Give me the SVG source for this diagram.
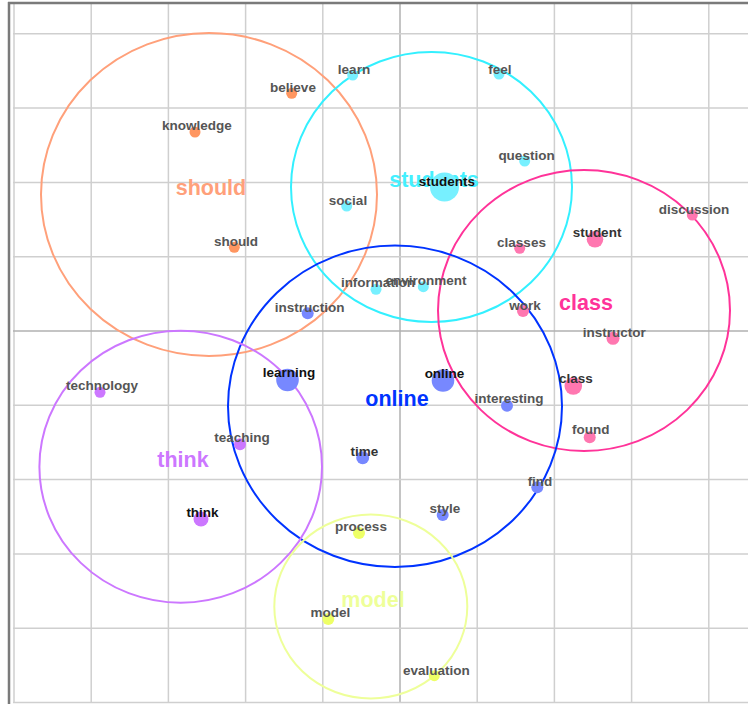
<svg xmlns="http://www.w3.org/2000/svg" width="748" height="704" viewBox="0 0 748 704">
<style>
.g{stroke:#cfcfcf;stroke-width:1.5}
.gc{stroke:#b0b0b0;stroke-width:1.5}
.cl{fill:none;stroke-width:2}
.cn{font-family:"Liberation Sans",Arial,sans-serif;font-weight:bold;font-size:21.5px;text-anchor:middle}
.w{font-family:"Liberation Sans",Arial,sans-serif;font-weight:bold;font-size:13.5px;text-anchor:middle;fill:#555}
.k{fill:#111}
.d{fill:#333}
.or{fill:#ff9660}.cy{fill:#77f0ff}.pk{fill:#ff77b0}.bl{fill:#7788ff}.pu{fill:#cc77ff}.ye{fill:#eeff66}
</style>
<rect width="748" height="704" fill="#fff"/>
<g id="grid">
<line class="g" x1="14" y1="3" x2="14" y2="703"/>
<line class="g" x1="91.2" y1="3" x2="91.2" y2="703"/>
<line class="g" x1="168.4" y1="3" x2="168.4" y2="703"/>
<line class="g" x1="245.6" y1="3" x2="245.6" y2="703"/>
<line class="g" x1="322.8" y1="3" x2="322.8" y2="703"/>
<line class="gc" x1="400" y1="3" x2="400" y2="703"/>
<line class="g" x1="477.2" y1="3" x2="477.2" y2="703"/>
<line class="g" x1="554.4" y1="3" x2="554.4" y2="703"/>
<line class="g" x1="631.6" y1="3" x2="631.6" y2="703"/>
<line class="g" x1="708.8" y1="3" x2="708.8" y2="703"/>
<line class="g" x1="13" y1="33.8" x2="748" y2="33.8"/>
<line class="g" x1="13" y1="108.1" x2="748" y2="108.1"/>
<line class="g" x1="13" y1="182.4" x2="748" y2="182.4"/>
<line class="g" x1="13" y1="256.7" x2="748" y2="256.7"/>
<line class="gc" x1="13" y1="331" x2="748" y2="331"/>
<line class="g" x1="13" y1="405.3" x2="748" y2="405.3"/>
<line class="g" x1="13" y1="479.6" x2="748" y2="479.6"/>
<line class="g" x1="13" y1="553.9" x2="748" y2="553.9"/>
<line class="g" x1="13" y1="628.2" x2="748" y2="628.2"/>
<line class="g" x1="13" y1="702.5" x2="748" y2="702.5"/>
<line x1="9" y1="2" x2="9" y2="704" stroke="#7a7a7a" stroke-width="2.5"/>
<line x1="8" y1="3" x2="748" y2="3" stroke="#7a7a7a" stroke-width="2.5"/>
</g>
<g id="clusters">
<g id="cluster-should"><ellipse class="cl" cx="209" cy="194.5" rx="168" ry="161.5" stroke="#ffa07a"/><text class="cn" x="211" y="195" fill="#ffa07a">should</text></g>
<g id="cluster-students"><ellipse class="cl" cx="431.5" cy="187" rx="140.5" ry="135" stroke="#33f0ff"/><text class="cn" x="434" y="187" fill="#44f0ff">students</text></g>
<g id="cluster-class"><ellipse class="cl" cx="584" cy="310.5" rx="146" ry="140.5" stroke="#ff3399"/><text class="cn" x="586" y="310" fill="#ff3399">class</text></g>
<g id="cluster-online"><ellipse class="cl" cx="395" cy="406.3" rx="167" ry="160.7" stroke="#0033ff"/><text class="cn" x="397" y="406" fill="#0033ff">online</text></g>
<g id="cluster-think"><ellipse class="cl" cx="180.7" cy="466.7" rx="141.3" ry="136" stroke="#cc77ff"/><text class="cn" x="183" y="467" fill="#cc77ff">think</text></g>
<g id="cluster-model"><ellipse class="cl" cx="370.8" cy="606.5" rx="96.5" ry="92" stroke="#eeff99"/><text class="cn" x="373" y="607" fill="#eeff99">model</text></g>
</g>
<g id="connectors"></g>
<g id="nodes">
<g id="n-learn"><circle class="cy" cx="352.7" cy="75" r="5.5"/><text class="w" x="354" y="74">learn</text></g>
<g id="n-believe"><circle class="or" cx="291.7" cy="93.3" r="5.5"/><text class="w" x="293" y="92">believe</text></g>
<g id="n-knowledge"><circle class="or" cx="195" cy="132" r="5.5"/><text class="w" x="197" y="130">knowledge</text></g>
<g id="n-feel"><circle class="cy" cx="499" cy="74" r="5.5"/><text class="w" x="500" y="74">feel</text></g>
<g id="n-question"><circle class="cy" cx="524.7" cy="161" r="5.5"/><text class="w" x="526.5" y="159.5">question</text></g>
<g id="n-social"><circle class="cy" cx="346.7" cy="206" r="5.5"/><text class="w" x="348" y="205" fill="#777">social</text></g>
<g id="n-students"><circle class="cy" cx="444.5" cy="187" r="14.5"/><text class="w k" x="447" y="186">students</text></g>
<g id="n-should"><circle class="or" cx="234.3" cy="247.3" r="5.5"/><text class="w" x="236" y="246">should</text></g>
<g id="n-discussion"><circle class="pk" cx="692.3" cy="215" r="5.5"/><text class="w" x="694" y="213.5">discussion</text></g>
<g id="n-student"><circle class="pk" cx="595" cy="239.3" r="8.3"/><text class="w d" x="597" y="237">student</text></g>
<g id="n-classes"><circle class="pk" cx="519.7" cy="248.3" r="5.5"/><text class="w" x="521.5" y="247">classes</text></g>
<g id="n-information"><circle class="cy" cx="376" cy="289.3" r="5.5"/><text class="w" x="378" y="287">information</text></g>
<g id="n-environment"><circle class="cy" cx="423.3" cy="286.7" r="5.5"/><text class="w" x="426" y="285">environment</text></g>
<g id="n-instruction"><circle class="bl" cx="307.7" cy="313.3" r="6"/><text class="w" x="309.7" y="311.7">instruction</text></g>
<g id="n-work"><circle class="pk" cx="523" cy="311" r="6"/><text class="w" x="525" y="310">work</text></g>
<g id="n-instructor"><circle class="pk" cx="613" cy="338.3" r="6.5"/><text class="w" x="614.3" y="336.7">instructor</text></g>
<g id="n-learning"><circle class="bl" cx="287.5" cy="380" r="11.3"/><text class="w k" x="289" y="377.3">learning</text></g>
<g id="n-online"><circle class="bl" cx="443" cy="380.5" r="11.3"/><text class="w k" x="444.5" y="378.3">online</text></g>
<g id="n-technology"><circle class="pu" cx="100" cy="392.3" r="5.5"/><text class="w" x="102" y="390">technology</text></g>
<g id="n-class"><circle class="pk" cx="573.3" cy="386" r="8.8"/><text class="w d" x="576" y="383.3">class</text></g>
<g id="n-interesting"><circle class="bl" cx="507" cy="405.7" r="6"/><text class="w" x="509" y="403.3">interesting</text></g>
<g id="n-teaching"><circle class="pu" cx="240" cy="444.3" r="6"/><text class="w" x="242" y="441.7">teaching</text></g>
<g id="n-found"><circle class="pk" cx="589.7" cy="437.3" r="6"/><text class="w" x="590.7" y="434">found</text></g>
<g id="n-time"><circle class="bl" cx="362.7" cy="457.7" r="6.5"/><text class="w d" x="364.5" y="455.7">time</text></g>
<g id="n-find"><circle class="bl" cx="537.3" cy="487.3" r="6"/><text class="w" x="540" y="485.7">find</text></g>
<g id="n-think"><circle class="pu" cx="201" cy="519" r="7.5"/><text class="w k" x="202.5" y="517.3">think</text></g>
<g id="n-style"><circle class="bl" cx="442.7" cy="515" r="6"/><text class="w" x="445" y="513.3">style</text></g>
<g id="n-process"><circle class="ye" cx="359" cy="533" r="6"/><text class="w" x="361" y="530.7" fill="#666">process</text></g>
<g id="n-model"><circle class="ye" cx="328.3" cy="619" r="6"/><text class="w" x="330.3" y="617.3">model</text></g>
<g id="n-evaluation"><circle class="ye" cx="434.3" cy="675.7" r="5.5"/><text class="w" x="436.3" y="674.7">evaluation</text></g>
</g>
</svg>
